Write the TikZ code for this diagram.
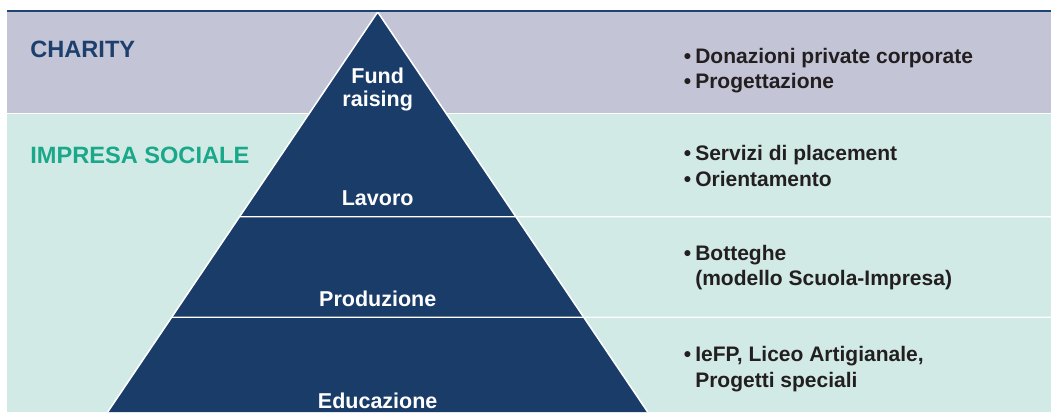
\documentclass[tikz,border=0pt]{standalone}
\usepackage{fontspec}
\setmainfont{Liberation Sans}
\usepackage{tikz}
\usetikzlibrary{calc}

\definecolor{bandgrey}{HTML}{C3C4D5}
\definecolor{bandteal}{HTML}{D1EAE5}
\definecolor{pyrnavy}{HTML}{1A3C69}
\definecolor{topnavy}{HTML}{1E4473}
\definecolor{charblue}{HTML}{1C3F6E}
\definecolor{socgreen}{HTML}{1AA88A}
\definecolor{itemtext}{HTML}{231F20}

\newcommand{\bul}{\llap{\textbullet\hspace{4bp}}}

\begin{document}
\begin{tikzpicture}[x=1bp,y=1bp,semithick]
\tikzstyle{band label}=[anchor=base west,inner sep=0pt,font=\fontsize{23.6bp}{28bp}\selectfont\bfseries]
\tikzstyle{level}=[anchor=base,inner sep=0pt,text=white,font=\fontsize{21.5bp}{25bp}\selectfont\bfseries]
\tikzstyle{item}=[anchor=base west,inner sep=0pt,text=itemtext,font=\fontsize{21bp}{25bp}\selectfont\bfseries]
\tikzstyle{sep}=[white,line width=1.2bp]

\useasboundingbox (0,0) rectangle (1051,412);

% bands
\fill[bandgrey] (7,298.5) rectangle (1051,401);
\fill[bandteal] (7,0) rectangle (1051,298.5);
\draw[sep] (7,298.5) -- (1051,298.5);

% pyramid
\coordinate (apex) at (377.7,400);
\coordinate (bl) at (107.7,0);
\coordinate (br) at (647.7,0);
\fill[pyrnavy] (bl) -- (apex) -- (br) -- cycle;
\draw[white,line width=1.5bp] (bl) -- (apex) -- (br);

\coordinate (cut1) at ($(bl)!0.4883!(apex)$);
\coordinate (cut2) at ($(bl)!0.2368!(apex)$);
\coordinate (end1) at (1051,195.3);
\coordinate (end2) at (1051,94.7);
\draw[sep] (cut1) -- (end1);
\draw[sep] (cut2) -- (end2);

% top rule
\coordinate (rl) at (7,401);
\coordinate (rr) at (1051,401);
\draw[topnavy,line width=2.5bp] (rl) -- (rr);

        \node[band label,text=charblue]   (charity) at (30,355)  {CHARITY};
        \node[band label,text=socgreen]   (sociale) at (30,249)  {IMPRESA SOCIALE};

        \node[level]   (fund)   at (377.7,329)  {Fund};
        \node[level]   (raise)  at (377.7,306)  {raising};
        \node[level]   (lav)    at (377.7,207)  {Lavoro};
        \node[level]   (prod)   at (377.7,106)  {Produzione};
        \node[level]   (edu)    at (377.7,4)    {Educazione};

        \node[item]    (don)    at (695,349)    {\bul Donazioni private corporate};
        \node[item]    (prog)   at (695,323.7)  {\bul Progettazione};
        \node[item]    (serv)   at (695,251.3)  {\bul Servizi di placement};
        \node[item]    (ori)    at (695,225.3)  {\bul Orientamento};
        \node[item]    (bott)   at (695,152)    {\bul Botteghe};
        \node[item]    (mod)    at (695,126.3)  {(modello Scuola-Impresa)};
        \node[item]    (iefp)   at (695,50.3)   {\bul IeFP, Liceo Artigianale,};
        \node[item]    (spec)   at (695,24.3)   {Progetti speciali};

\end{tikzpicture}
\end{document}
